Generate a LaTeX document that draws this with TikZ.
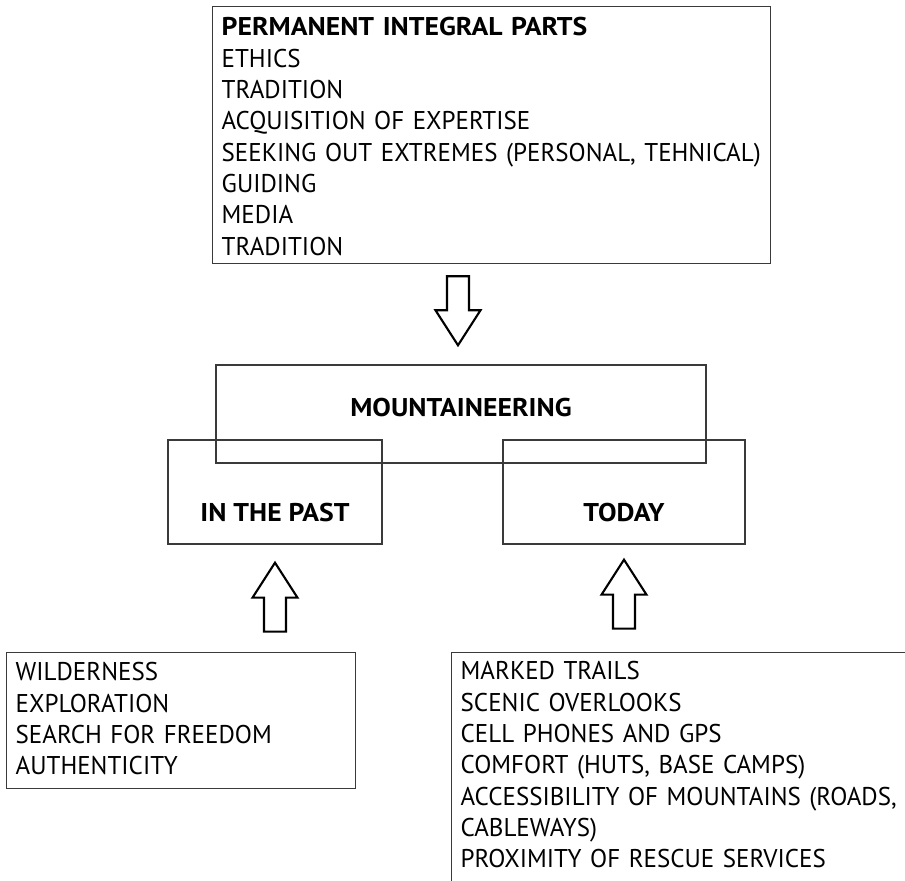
\documentclass[tikz,border=0pt]{standalone}
\usepackage{fontspec}
\setmainfont{PT Sans}[FakeStretch=0.975, BoldFeatures={FakeStretch=1.08}]
\usetikzlibrary{positioning,calc}

\definecolor{framegray}{HTML}{3A3A3A}
\tikzset{
  listbox/.style={draw=framegray, line width=0.4pt, anchor=north west, align=left,
    inner xsep=0.09cm, inner ysep=0pt, font=\fontsize{7.3}{8.93}\selectfont},
  headbox/.style={draw=framegray, line width=0.4pt, anchor=base, align=center,
    inner sep=0pt, font=\fontsize{7.3}{8.93}\selectfont\bfseries},
  fatarrow/.pic={\draw[line width=0.6pt, line join=miter]
    (0,0) -- (0.225,-0.35) -- (0.11,-0.35) -- (0.11,-0.69)
    -- (-0.11,-0.69) -- (-0.11,-0.35) -- (-0.225,-0.35) -- cycle;}
}

\begin{document}
\begin{tikzpicture}[line cap=round, >=stealth]
	\useasboundingbox (0,0) rectangle (9.05,8.81);
	\clip (0,0) rectangle (9.05,8.81);
	
	% list on top
	\node[listbox, text width=5.40cm, text height=0.29cm, text depth=2.28cm] (parts) at (2.12,8.75)
	{\textbf{PERMANENT INTEGRAL PARTS}\\ ETHICS\\ TRADITION\\ ACQUISITION OF EXPERTISE\\
		\mbox{SEEKING OUT EXTREMES (PERSONAL, TEHNICAL)}\\ GUIDING\\ MEDIA\\ TRADITION};
	
	% the three titles
	\node[headbox, minimum width=4.90cm, text height=0.52cm, text depth=0.46cm] (mount) at (4.61,4.64) {MOUNTAINEERING};
	\node[headbox, minimum width=2.14cm, text height=0.82cm, text depth=0.22cm] (past) at (2.75,3.59) {IN THE PAST};
	\node[headbox, minimum width=2.42cm, text height=0.82cm, text depth=0.22cm] (today) at (6.24,3.59) {TODAY};
	
	% lists below
	\node[listbox, text width=3.31cm, text height=0.28cm, text depth=1.08cm] (then) at (0.06,2.29)
	{WILDERNESS\\ EXPLORATION\\ SEARCH FOR FREEDOM\\ AUTHENTICITY};
	\node[listbox, text width=5.00cm, text height=0.27cm, text depth=2.60cm] (now) at (4.51,2.29)
	{MARKED TRAILS\\ SCENIC OVERLOOKS\\ CELL PHONES AND GPS\\ COMFORT (HUTS, BASE CAMPS)\\
		\mbox{ACCESSIBILITY OF MOUNTAINS (ROADS,}\\ CABLEWAYS)\\ PROXIMITY OF RESCUE SERVICES};
	
	% block arrows
	\coordinate (tipdown) at ($(mount.north)+(-0.03,0.19)$);
	\coordinate (tippast) at ($(past.south)+(0,-0.18)$);
	\coordinate (tiptoday) at ($(today.south)+(0,-0.15)$);
	\pic[rotate=180] at (tipdown) {fatarrow};
	\pic at (tippast) {fatarrow};
	\pic at (tiptoday) {fatarrow};
\end{tikzpicture}
\end{document}
